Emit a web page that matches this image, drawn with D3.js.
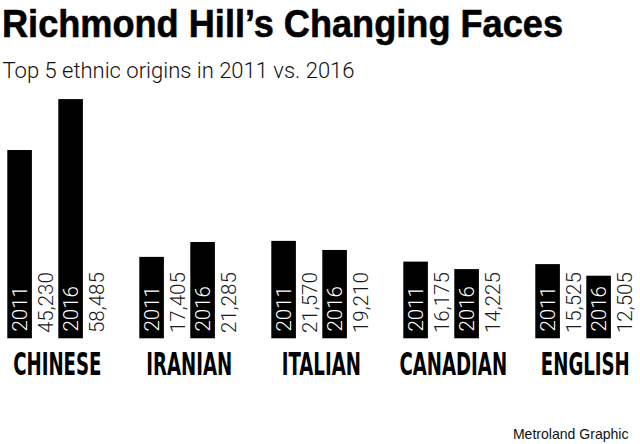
<!DOCTYPE html>
<html>
<head>
<meta charset="utf-8">
<script src="https://cdn.jsdelivr.net/npm/d3@7"></script>
<style>
  html, body { margin: 0; padding: 0; background: #fff; }
  svg { display: block; }
</style>
</head>
<body>
<svg id="chart" width="640" height="444"></svg>
<script>
const categories = ["CHINESE", "IRANIAN", "ITALIAN", "CANADIAN", "ENGLISH"];
const years = ["2011", "2016"];
const values2011 = [45230, 17405, 21570, 16175, 15525];
const values2016 = [58485, 21285, 19210, 14225, 12505];
const titleText = "Richmond Hill\u2019s Changing Faces";
const subtitleText = "Top 5 ethnic origins in 2011 vs. 2016";
const sourceText = "Metroland Graphic";

const data = categories.map((c, i) => ({
  category: c,
  bars: [
    { year: years[0], value: values2011[i] },
    { year: years[1], value: values2016[i] }
  ]
}));

const svg = d3.select("#chart");
const baseline = 338.3;

const x0 = d3.scaleBand().domain(categories).range([7.3, 667.3]);
const x1 = d3.scaleBand().domain(years).range([0, 102]);
const barW = 24.6;
const y = d3.scaleLinear().domain([-3793, 58485]).range([baseline, 99.1]);

const fmt = d3.format(",");

// Title
svg.append("text")
  .attr("x", 2).attr("y", 36.5)
  .attr("font-family", "'Liberation Sans', Arial, sans-serif")
  .attr("font-weight", "bold")
  .attr("font-size", 38.5)
  .attr("textLength", 561)
  .attr("lengthAdjust", "spacingAndGlyphs")
  .attr("fill", "#000")
  .attr("stroke", "#000")
  .attr("stroke-width", 0.6)
  .text(titleText);

// Subtitle
svg.append("text")
  .attr("x", 2.5).attr("y", 77.5)
  .attr("font-family", "Roboto, 'Liberation Sans Narrow', sans-serif")
  .attr("font-weight", 300)
  .attr("font-size", 21.8)
  .attr("textLength", 352)
  .attr("lengthAdjust", "spacingAndGlyphs")
  .attr("fill", "#111")
  .text(subtitleText);

const groups = svg.selectAll("g.group")
  .data(data)
  .join("g")
  .attr("class", "group")
  .attr("transform", d => `translate(${x0(d.category)},0)`);

const bar = groups.selectAll("g.bar")
  .data(d => d.bars)
  .join("g")
  .attr("class", "bar")
  .attr("transform", d => `translate(${x1(d.year)},0)`);

bar.append("rect")
  .attr("x", 0)
  .attr("y", d => y(d.value))
  .attr("width", barW)
  .attr("height", d => baseline - y(d.value))
  .attr("fill", "#000");

// Year text inside bars
bar.append("text")
  .attr("transform", `translate(20,331.5) rotate(-90)`)
  .attr("font-family", "Roboto, 'Liberation Sans', sans-serif")
  .attr("font-weight", 300)
  .attr("font-size", 20.5)
  .attr("fill", "#fff")
  .text(d => d.year);

// Value text right of bars
bar.append("text")
  .attr("transform", `translate(46,333) rotate(-90)`)
  .attr("font-family", "Roboto, 'Liberation Sans', sans-serif")
  .attr("font-weight", 300)
  .attr("font-size", 20.5)
  .attr("fill", "#1a1a1a")
  .text(d => fmt(d.value));

// Category labels
groups.append("text")
  .attr("transform", "translate(50,374.5) scale(0.64,1)")
  .attr("text-anchor", "middle")
  .attr("font-family", "'Liberation Sans Narrow', 'DejaVu Sans Condensed', sans-serif")
  .attr("font-weight", "bold")
  .attr("font-size", 31.5)
  .attr("fill", "#000")
  .text(d => d.category);

// Source
svg.append("text")
  .attr("x", 628.5).attr("y", 439.3)
  .attr("text-anchor", "end")
  .attr("font-family", "'Liberation Sans Narrow', 'Liberation Sans', sans-serif")
  .attr("font-size", 14.5)
  .attr("textLength", 115.6)
  .attr("lengthAdjust", "spacingAndGlyphs")
  .attr("fill", "#111")
  .text(sourceText);
</script>
</body>
</html>
